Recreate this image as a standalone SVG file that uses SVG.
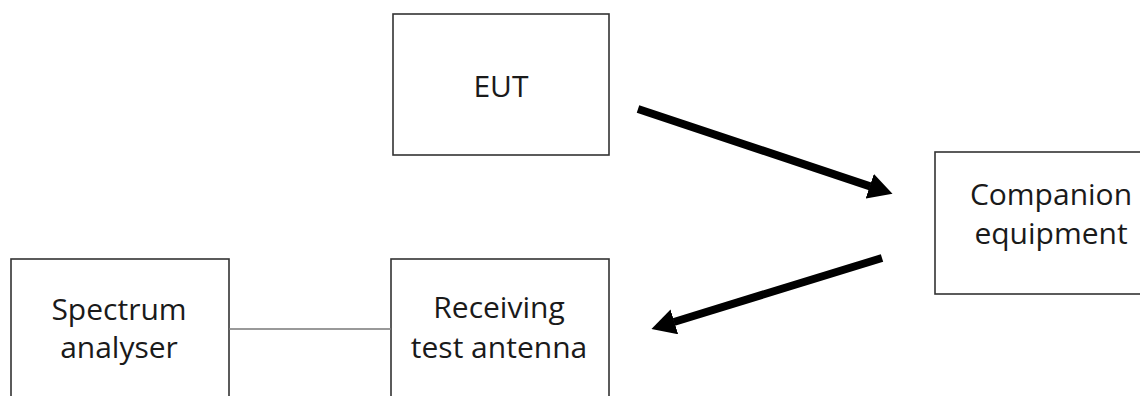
<svg xmlns="http://www.w3.org/2000/svg" width="1140" height="396" viewBox="0 0 1140 396">
<style>
  .box { fill: #ffffff; stroke: #333333; stroke-width: 1.6; }
  .lbl { font-family: "Open Sans", "Noto Sans", sans-serif; font-size: 30px; fill: #1a1a1a; text-anchor: middle; }
  .arrow { stroke: #000000; stroke-width: 8; fill: none; marker-end: url(#head); }
  .link { stroke: #777777; stroke-width: 1.5; fill: none; }
</style>
<defs>
  <marker id="head" markerUnits="userSpaceOnUse" markerWidth="24" markerHeight="26" refX="0.5" refY="13" orient="auto" viewBox="0 0 24 26">
    <path d="M0,0 L24,13 L0,26 Z" fill="#000000"/>
  </marker>
</defs>
<rect width="1140" height="396" fill="#ffffff"/>
<g id="eut">
  <rect class="box" x="393" y="14" width="216" height="141"/>
  <text class="lbl" x="501" y="97">EUT</text>
</g>
<g id="companion">
  <rect class="box" x="935" y="152" width="215" height="142"/>
  <text class="lbl" x="1051" y="205">Companion</text>
  <text class="lbl" x="1051" y="244">equipment</text>
</g>
<g id="spectrum">
  <rect class="box" x="11" y="259" width="218" height="150"/>
  <text class="lbl" x="119" y="320">Spectrum</text>
  <text class="lbl" x="119" y="358">analyser</text>
</g>
<g id="antenna">
  <rect class="box" x="391" y="259" width="218" height="150"/>
  <text class="lbl" x="499" y="318">Receiving</text>
  <text class="lbl" x="499" y="358">test antenna</text>
</g>
<g id="connectors">
  <line class="link" x1="229" y1="329" x2="391" y2="329"/>
  <line class="arrow" x1="638" y1="109" x2="870.2" y2="186.4"/>
  <line class="arrow" x1="882" y1="258" x2="673.9" y2="322"/>
</g>
</svg>
